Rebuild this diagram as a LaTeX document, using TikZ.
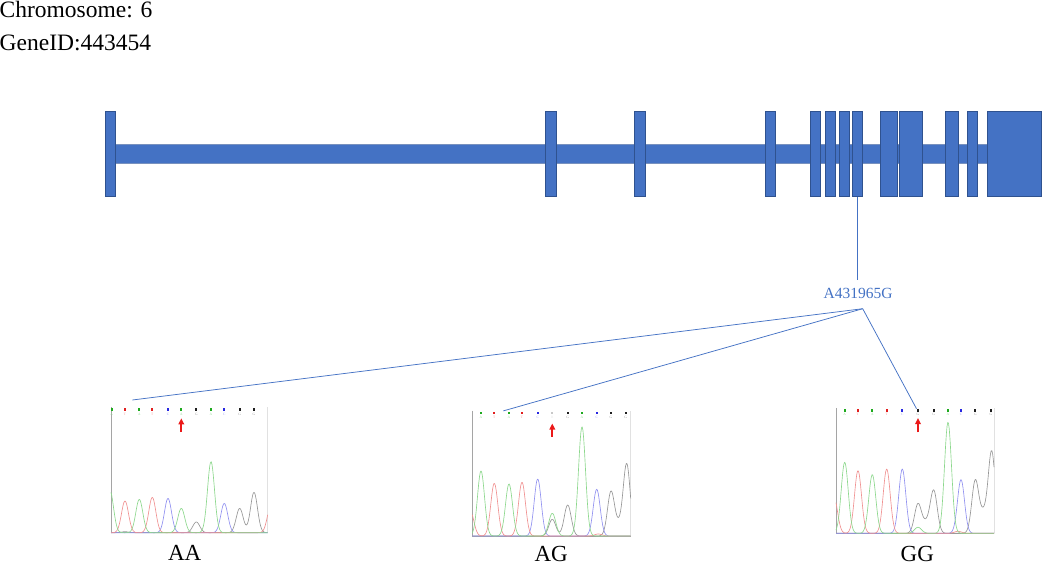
\documentclass[tikz,border=0pt]{standalone}
\usepackage{fontspec}
\setmainfont{Liberation Serif}
\usetikzlibrary{arrows.meta}
\definecolor{gblue}{HTML}{4472C4}
\definecolor{gborder}{HTML}{2F528F}
\definecolor{barline}{RGB}{120,145,190}
\definecolor{trG}{RGB}{140,215,140}
\definecolor{trR}{RGB}{240,145,145}
\definecolor{trB}{RGB}{145,145,240}
\definecolor{trK}{RGB}{150,150,150}
\definecolor{tkG}{RGB}{30,170,30}
\definecolor{tkR}{RGB}{225,30,30}
\definecolor{tkB}{RGB}{40,40,225}
\definecolor{tkK}{RGB}{30,30,30}
\definecolor{tkL}{RGB}{200,200,200}
\definecolor{axisgray}{RGB}{165,165,165}
\definecolor{edgegray}{RGB}{225,225,225}
\definecolor{snpred}{RGB}{235,25,25}

\newcommand{\ctrace}[3]{\draw[tracestyle,#1] plot[domain=0:#2,samples=220] (\x,{#3});}
\newcommand{\basemarks}[3]{%
  \foreach \px/\col/\b [count=\i] in {#3} {
    \fill[\col] (\px-0.9,#2) rectangle (\px+0.9,#2-2.6);
    \node[basechar,text=\col!45] (#1b\i) at (\px,#2-5.6) {\b};
  }}

\begin{document}
\begin{tikzpicture}[x=1pt,y=-1pt,
  declare function={g(\ta,\cc,\hh)=\hh*exp(-min(0.5*((\ta-\cc)/3.5)^2,9));},
  exonbox/.style={draw=gborder,fill=gblue,line width=0.8pt,minimum height=85.4pt,inner sep=0pt,outer sep=0pt},
  intronbar/.style={draw=barline,fill=gblue,line width=0.8pt},
  tracestyle/.style={line width=0.65pt,line join=round},
  axisline/.style={axisgray,line width=0.8pt},
  edgeline/.style={edgegray,line width=0.6pt},
  basechar/.style={inner sep=0pt,font=\fontsize{3.5}{4}\selectfont},
  snparrow/.style={snpred,line width=1.8pt,-{Triangle[width=5.5pt,length=6pt]}},
  blueline/.style={gblue,line width=0.75pt},
  titletext/.style={inner sep=0pt,font=\fontsize{23.5}{28}\selectfont},
  snplabel/.style={inner sep=0pt,text=gblue,font=\fontsize{15.5}{18}\selectfont},
  genolabel/.style={inner sep=0pt,anchor=base,font=\fontsize{23}{27}\selectfont}]
\useasboundingbox (0,0) rectangle (1042,565);

% titles
\node[titletext,anchor=base west] (chrom) at (-0.5,17) {Chromosome: 6};
\node[titletext,anchor=base west] (geneid) at (-0.5,50) {GeneID:443454};

% gene structure
\path[intronbar] (115.7,144) rectangle (987.3,163.3);
\node[exonbox,minimum width=10.4pt] (e1) at (110.5,154) {};
\node[exonbox,minimum width=11.4pt] (e2) at (551,154) {};
\node[exonbox,minimum width=11.4pt] (e3) at (640,154) {};
\node[exonbox,minimum width=10.4pt] (e4) at (770.5,154) {};
\node[exonbox,minimum width=10.4pt] (e5) at (815.5,154) {};
\node[exonbox,minimum width=10.4pt] (e6) at (830.5,154) {};
\node[exonbox,minimum width=10.4pt] (e7) at (844.5,154) {};
\node[exonbox,minimum width=10.4pt] (e8) at (857.5,154) {};
\node[exonbox,minimum width=17.4pt] (e9) at (889,154) {};
\node[exonbox,minimum width=23.4pt] (e10) at (911,154) {};
\node[exonbox,minimum width=13.4pt] (e11) at (952,154) {};
\node[exonbox,minimum width=10.4pt] (e12) at (972.5,154) {};
\node[exonbox,minimum width=53.7pt] (e13) at (1014.2,154) {};

% SNP label and connectors
\coordinate (vtop) at (857.5,280);
\node[snplabel,anchor=base] (snp) at (858,298.3) {A431965G};
\coordinate (fork) at (862.7,308.7);
\coordinate (AAtop) at (132.3,400);
\coordinate (AGtop) at (503.3,410.9);
\coordinate (GGtop) at (916.5,408.7);
\draw[blueline] (e8.south) -- (vtop);
\draw[blueline] (fork) -- (AAtop);
\draw[blueline] (fork) -- (AGtop);
\draw[blueline] (fork) -- (GGtop);

% ---- AA chromatogram
\begin{scope}[shift={(111,532.7)},y=1pt]
  \draw[axisline] (0,125.5) -- (0,0) -- (156.7,0);
  \draw[edgeline] (156.7,0) -- (156.7,125.5);
  \ctrace{trK}{156.7}{g(\x,85.3,10.7)+g(\x,128.7,24.3)+g(\x,143,40.3)+g(\x,14,1)}
  \ctrace{trB}{156.7}{g(\x,57,34.3)+g(\x,113.3,29.3)}
  \ctrace{trR}{156.7}{g(\x,14,31.7)+g(\x,41.3,35.3)+g(\x,160,28)}
  \ctrace{trG}{156.7}{g(\x,-1,42)+g(\x,28.3,33.3)+g(\x,70.3,24.3)+g(\x,100,71)}
  \basemarks{AA}{124.3}{0.7/tkG/A,14/tkR/T,28.3/tkG/A,41.3/tkR/T,57/tkB/C,70.3/tkG/A,85.3/tkK/G,100/tkG/A,113.3/tkB/C,128.7/tkK/G,143/tkK/G}
  \draw[snparrow] (70.3,100.5) -- (70.3,114.4);
\end{scope}
\node[genolabel] (AAlab) at (184.7,560.7) {AA};

% ---- AG chromatogram
\begin{scope}[shift={(472.3,536)},y=1pt]
  \draw[axisline] (0,125.5) -- (0,0) -- (158.4,0);
  \draw[edgeline] (158.4,0) -- (158.4,125.5);
  \ctrace{trK}{158.4}{g(\x,80,16.7)+g(\x,95.4,31)+g(\x,138.7,44.3)+g(\x,146.5,9.5)+g(\x,154.4,72)}
  \ctrace{trB}{158.4}{g(\x,65.4,57)+g(\x,124.4,46.7)}
  \ctrace{trR}{158.4}{g(\x,-2,25)+g(\x,22,52.7)+g(\x,49.7,53.7)+g(\x,126,2)}
  \ctrace{trG}{158.4}{g(\x,8.7,65)+g(\x,36.7,52)+g(\x,80,22.7)+g(\x,109.7,109.3)}
  \basemarks{AG}{124.3}{8.7/tkG/A,22/tkR/T,36.7/tkG/A,49.7/tkR/T,65.4/tkB/C,80/tkL/R,95.4/tkK/G,109.7/tkG/A,124.4/tkB/C,138.7/tkK/G,153.4/tkK/G}
  \draw[snparrow] (80,99.3) -- (80,112.5);
\end{scope}
\node[genolabel] (AGlab) at (551.2,561.7) {AG};

% ---- GG chromatogram
\begin{scope}[shift={(836,533.3)},y=1pt]
  \draw[axisline] (0,125.5) -- (0,0) -- (158,0);
  \draw[edgeline] (158,0) -- (158,125.5);
  \ctrace{trK}{158}{g(\x,82,29.3)+g(\x,90,9)+g(\x,97.7,42.7)+g(\x,139.3,52.7)+g(\x,147.5,18)+g(\x,155.7,81.7)}
  \ctrace{trB}{158}{g(\x,66.3,64.3)+g(\x,125,53.7)}
  \ctrace{trR}{158}{g(\x,-2,36)+g(\x,22,62.7)+g(\x,50.7,64.3)+g(\x,122,2)}
  \ctrace{trG}{158}{g(\x,8.7,71)+g(\x,36.3,58.7)+g(\x,82,6)+g(\x,112,111)}
  \basemarks{GG}{124.3}{8.7/tkG/A,22/tkR/T,36.3/tkG/A,50.7/tkR/T,66.3/tkB/C,82/tkK/G,97.7/tkK/G,112/tkG/A,125/tkB/C,139.3/tkK/G,155/tkK/G}
  \draw[snparrow] (82,101) -- (82,115.3);
\end{scope}
\node[genolabel] (GGlab) at (917.3,561.8) {GG};
\end{tikzpicture}
\end{document}
